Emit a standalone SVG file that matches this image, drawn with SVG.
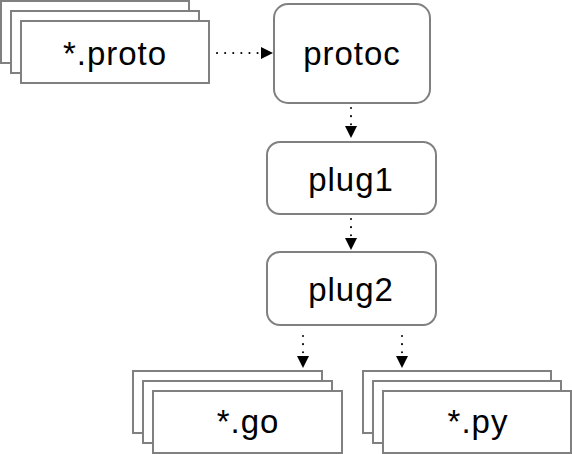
<svg xmlns="http://www.w3.org/2000/svg" width="572" height="454" viewBox="0 0 572 454">
<defs>
<style>
.box{fill:#fff;stroke:#808080;stroke-width:2}
.lbl{font-family:"Liberation Sans",Arial,sans-serif;font-size:33px;letter-spacing:1px;fill:#000;text-anchor:middle}
.edge{stroke:#000;stroke-width:2;stroke-linecap:round;stroke-dasharray:0.1 8;fill:none}
</style>
<marker id="ah" viewBox="0 0 12 12" refX="12" refY="6" markerWidth="12" markerHeight="12" markerUnits="userSpaceOnUse" orient="auto">
<path d="M0,0 L12,6 L0,12 Z" fill="#000"/>
</marker>
</defs>
<rect width="572" height="454" fill="#fff"/>
<g id="proto">
<rect class="box" x="1" y="1" width="188" height="62"/>
<rect class="box" x="11" y="11" width="188" height="62"/>
<rect class="box" x="21" y="21" width="188" height="62"/>
<text class="lbl" x="115" y="65">*.proto</text>
</g>
<g id="protoc">
<rect class="box" x="274" y="4" width="156" height="99" rx="14"/>
<text class="lbl" x="352" y="65">protoc</text>
</g>
<g id="plug1">
<rect class="box" x="267" y="142" width="169" height="72" rx="13"/>
<text class="lbl" x="351" y="191">plug1</text>
</g>
<g id="plug2">
<rect class="box" x="267" y="252" width="169" height="73" rx="13"/>
<text class="lbl" x="351" y="301">plug2</text>
</g>
<g id="go">
<rect class="box" x="133" y="371" width="189" height="62"/>
<rect class="box" x="143" y="381" width="189" height="62"/>
<rect class="box" x="153" y="391" width="189" height="62"/>
<text class="lbl" x="248" y="433">*.go</text>
</g>
<g id="py">
<rect class="box" x="363" y="371" width="188" height="62"/>
<rect class="box" x="373" y="381" width="188" height="62"/>
<rect class="box" x="383" y="391" width="188" height="62"/>
<text class="lbl" x="478" y="433">*.py</text>
</g>
<g id="connectors">
<path class="edge" d="M217,53 L273,53" marker-end="url(#ah)"/>
<path class="edge" d="M351,108 L351,138" marker-end="url(#ah)"/>
<path class="edge" d="M351,219 L351,250" marker-end="url(#ah)"/>
<path class="edge" d="M303,336 L303,368" marker-end="url(#ah)"/>
<path class="edge" d="M402,336 L402,368" marker-end="url(#ah)"/>
</g>
</svg>
